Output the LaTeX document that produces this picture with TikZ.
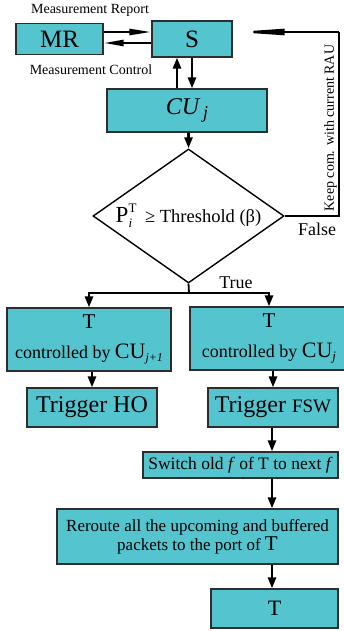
\documentclass[tikz,border=0pt]{standalone}
\usepackage{amsmath}
\usepackage{fontspec}
\setmainfont{Liberation Serif}
\usepackage{tikz}
\usetikzlibrary{shapes.geometric, arrows.meta, positioning}
\definecolor{CajaTurquesa}{RGB}{84, 196, 206}
\definecolor{BordeGris}{RGB}{45, 45, 45}
\newcommand{\tam}[2]{\fontsize{#1}{#2}\selectfont}

\begin{document}
\begin{tikzpicture}[x=1pt, y=-1pt,
    caja/.style={draw=BordeGris, line width=1.2pt, fill=CajaTurquesa, inner sep=0pt, align=center},
    flecha/.style={line width=2.6pt, -{Triangle[length=11pt,width=8pt]}},
    linea/.style={line width=1.8pt}]
    \useasboundingbox (0,0) rectangle (344,631);

    % Cajas superiores
    \node[caja, minimum width=87pt, minimum height=31pt, font=\tam{25}{28}] (MR) at (59.5,39) {MR};
    \node[caja, minimum width=80pt, minimum height=36pt, font=\tam{25}{28}] (S) at (192,39) {S};
    \node[caja, minimum width=160pt, minimum height=43pt] (CU) at (187,110.5)
        {\tam{24}{26}\itshape CU\,\raisebox{-4pt}{\tam{18}{20}\itshape j}};
    \node[font=\tam{14}{16}] (mrep) at (90,10) {Measurement Report};
    \node[font=\tam{14}{16}] (mcon) at (91,70) {Measurement Control};

    % Decision
    \node[draw, diamond, aspect=1.43, minimum width=191pt, minimum height=134pt,
          inner sep=0pt, line width=1.4pt] (D) at (188.5,216)
        {\tam{23}{24}P\rlap{\raisebox{10pt}{\tam{13}{14}T}}\raisebox{-5pt}{\tam{13}{14}\itshape i}%
         \hspace{13pt}\tam{18.5}{20}≥ Threshold (β)};
    \node[font=\tam{18}{20}] (verdad) at (236,283) {True};
    \node[font=\tam{18}{20}] (falso) at (317,229) {False};
    \node[rotate=90, font=\tam{14}{16}] (keep) at (330.5,128) {Keep com. with current RAU};

    % Ramas
    \node[caja, minimum width=164pt, minimum height=63pt, font=\tam{18}{30}] (Tizq) at (89,339.5)
        {\tam{21}{30}T\\
         controlled by \tam{22}{30}CU\raisebox{-3pt}{\tam{12}{14}\itshape j+1}};
    \node[caja, minimum width=158pt, minimum height=63pt, font=\tam{18}{30}] (Tder) at (269,338.5)
        {\tam{21}{30}T\\
         controlled by \tam{22}{30}CU\raisebox{-3pt}{\tam{13}{14}\itshape j}};
    \node[caja, minimum width=130pt, minimum height=39pt, font=\tam{24}{26}] (HO) at (92,407.5) {Trigger HO};
    \node[caja, minimum width=130pt, minimum height=39pt] (FSW) at (273,407.5)
        {\tam{24}{26}Trigger \tam{19}{26}FSW};
    \node[caja, minimum width=195pt, minimum height=26pt, font=\tam{17.5}{20}] (SW) at (240.5,465)
        {Switch old \textit{f} of T to next \textit{f}};
    \node[caja, minimum width=281pt, minimum height=55pt, font=\tam{17}{19}] (RR) at (197.5,536.5)
        {Reroute all the upcoming and buffered\\packets to the port of \tam{21}{19}T};
    \node[caja, minimum width=127pt, minimum height=39pt, font=\tam{22}{24}] (Tfin) at (274.5,608.5) {T};

    % Conectores de arriba
    \draw[line width=2.4pt, -{Triangle[length=22pt,width=6pt]}] ([yshift=7pt]MR.east) -- ([yshift=7pt]S.west);
    \draw[line width=2.4pt, -{Triangle[length=20pt,width=6pt]}] ([yshift=-4pt]S.west) -- ([yshift=-4pt]MR.east);
    \draw[flecha] ([xshift=-15pt]S.south |- CU.north) -- ([xshift=-15pt]S.south);
    \draw[flecha] (S.south) -- (S.south |- CU.north);
    \draw[flecha] (CU.south -| D.north) -- (D.north);

    % Lazo de retorno (False)
    \coordinate (esq) at (339,32);
    \draw[line width=1.4pt] (D.east) -| (esq);
    \draw[line width=2.4pt, -{Triangle[length=52pt,width=6pt]}] (esq) -- (S.east |- esq);

    % Rama True
    \coordinate (rama) at (189,293);
    \draw[linea] (D.south) -- (rama);
    \draw[flecha] (rama) -| (Tizq.north);
    \draw[flecha] (rama) -| (Tder.north);

    % Columna derecha
    \draw[flecha] (HO.north |- Tizq.south) -- (HO.north);
    \draw[flecha] (FSW.north |- Tder.south) -- (FSW.north);
    \draw[flecha] ([xshift=-1pt]FSW.south) -- ([xshift=-1pt]FSW.south |- SW.north);
    \draw[flecha] ([xshift=-1pt]FSW.south |- SW.south) -- ([xshift=-1pt]FSW.south |- RR.north);
    \draw[flecha] ([xshift=-1pt]FSW.south |- RR.south) -- ([xshift=-1pt]FSW.south |- Tfin.north);
\end{tikzpicture}
\end{document}
